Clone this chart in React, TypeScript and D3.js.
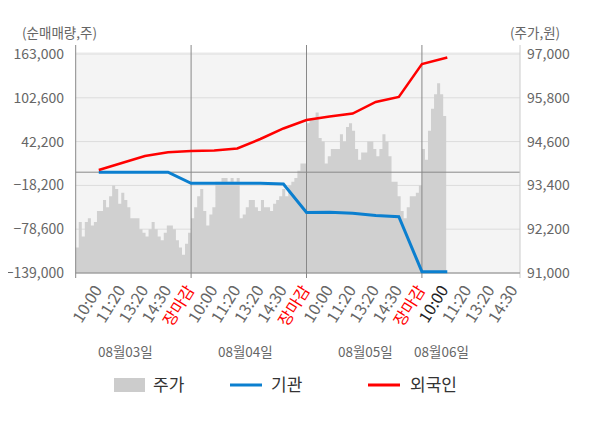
import React from 'react';
import * as d3 from 'd3';

// 주가 (right axis), sampled per day
const day1Price = [
  91700, 92400, 92000, 92400, 92500, 92300, 92400, 92700, 92700, 93000, 92800, 93100, 93400,
  93300, 92900, 93200, 93000, 92800, 92500, 92500, 92500, 92200, 92100, 92000, 92200, 92400,
  92200, 92000, 91900, 92100, 92300, 92300, 92200, 91900, 91700, 91500, 91800, 92100,
];
const day2Price = [
  92500, 92800, 93100, 93300, 92700, 92300, 92600, 92800, 93500, 93500, 93600, 93600, 93500,
  93600, 93500, 93600, 92500, 92600, 92800, 93000, 93000, 92800, 92700, 93000, 92800, 92800,
  92700, 92900, 93000, 93100, 93300, 93100, 93400, 93500, 93600, 93800, 94000, 94000,
];
const day3Price = [
  95100, 95200, 95200, 95400, 94700, 94600, 94000, 94200, 94400, 94400, 94400, 94800, 94600,
  95000, 95100, 94900, 94400, 94100, 94300, 94300, 94600, 94600, 94400, 94200, 94400, 94800,
  94600, 94200, 93500, 93500, 93100, 92700, 92500, 92800, 93100, 93100, 93200, 93400,
];
const day4Price = [94400, 94100, 94900, 95500, 95900, 96200, 95900, 95300];
const pricesByDay = [day1Price, day2Price, day3Price, day4Price];

// 외국인 / 기관 net volume at each label slot
const lineSlots = [1, 2, 3, 4, 5, 6, 7, 8, 9, 10, 11, 12, 13, 14, 15, 16.1];
const foreign = [
  3000, 12700, 22300, 27400, 29200, 29900, 32700, 45800, 60300, 72000, 76800, 80900, 96800,
  103700, 149200, 158200,
];
const institution = [
  0, 0, 0, 0, -15300, -15300, -15300, -15300, -16300, -55600, -55300, -56700, -59700, -61400,
  -137200, -137200,
];

const leftTicks = [163000, 102600, 42200, -18200, -78600, -139000];
const rightTicks = [97000, 95800, 94600, 93400, 92200, 91000];
const timeLabels = ['10:00', '11:20', '13:20', '14:30', '장마감'];
const dateLabels = ['08월03일', '08월04일', '08월05일', '08월06일'];
const datePos = [2.15, 7.35, 12.55, 15.85];

const SLOTS_PER_DAY = 5;
const FONT = '"Noto Sans CJK KR", "Noto Sans", sans-serif';

const App: React.FC = () => {
  const width = 600;
  const height = 428;
  const left = 75.7;
  const right = 520;
  const top = 54;
  const bottom = 273;

  const x = d3.scaleLinear().domain([0, 19.25]).range([left, right]);
  const yL = d3.scaleLinear().domain([-139000, 163000]).range([bottom, top]);
  const yR = d3.scaleLinear().domain([91000, 97000]).range([bottom, top]);

  const pricePts: [number, number][] = [];
  pricesByDay.forEach((arr, d) => {
    const step = SLOTS_PER_DAY / 38;
    arr.forEach((p, i) => pricePts.push([d * SLOTS_PER_DAY + i * step, p]));
    if (d === pricesByDay.length - 1) {
      pricePts.push([d * SLOTS_PER_DAY + arr.length * step, arr[arr.length - 1]]);
    }
  });

  const area = d3
    .area<[number, number]>()
    .curve(d3.curveStepAfter)
    .x((d) => x(d[0]))
    .y0(bottom)
    .y1((d) => yR(d[1]));

  const line = d3
    .line<[number, number]>()
    .x((d) => x(d[0]))
    .y((d) => yL(d[1]));

  const redPts = lineSlots.map((s, i) => [s, foreign[i]] as [number, number]);
  const bluePts = lineSlots.map((s, i) => [s, institution[i]] as [number, number]);

  const ticks: { slot: number; label: string; color: string }[] = [];
  for (let d = 0; d < 4; d++) {
    timeLabels.forEach((t, i) => {
      const slot = d * SLOTS_PER_DAY + i + 1;
      if (slot > 19.25) return;
      let color = '#666';
      if (t === '장마감') color = '#f00';
      if (d === 3 && i === 0) color = '#222';
      ticks.push({ slot, label: t, color });
    });
  }

  const daySeps = [0, 5, 10, 15];

  return (
    <svg width={width} height={height} style={{ display: 'block', margin: -8 }} fontFamily={FONT}>
      <rect x={left} y={top - 2} width={right - left} height={bottom - top + 2} fill="#f4f4f4" />
      {leftTicks.map((t) => (
        <line key={t} x1={left} x2={right} y1={yL(t)} y2={yL(t)} stroke="#dcdcdc" strokeWidth={1} />
      ))}
      <path d={area(pricePts) || ''} fill="#d0d0d0" />
      <line x1={left} x2={right} y1={yL(0)} y2={yL(0)} stroke="#888" strokeWidth={1} />
      {daySeps.map((s) => (
        <line key={s} x1={x(s)} x2={x(s)} y1={45} y2={bottom + 5} stroke="#888" strokeWidth={1} />
      ))}
      <line x1={right} x2={right} y1={45} y2={bottom + 5} stroke="#ccc" strokeWidth={1} />
      <line x1={left} x2={right} y1={bottom} y2={bottom} stroke="#888" strokeWidth={1} />
      <path d={line(bluePts) || ''} fill="none" stroke="#0b7fcf" strokeWidth={3} />
      <path d={line(redPts) || ''} fill="none" stroke="#ff0000" strokeWidth={2.5} />

      <text x={22} y={38} fontSize={13.5} fill="#666">(순매매량,주)</text>
      <text x={510} y={38} fontSize={13.5} fill="#666">(주가,원)</text>
      {leftTicks.map((t) => (
        <text key={t} x={64} y={yL(t) + 5} fontSize={14} fill="#666" textAnchor="end">
          {d3.format(',')(t)}
        </text>
      ))}
      {rightTicks.map((t) => (
        <text key={t} x={527} y={yR(t) + 5} fontSize={14} fill="#666">
          {d3.format(',')(t)}
        </text>
      ))}
      {ticks.map((t) => (
        <text
          key={t.slot}
          transform={`translate(${x(t.slot) + 4},${bottom + 17}) rotate(-58)`}
          fontSize={16}
          fill={t.color}
          textAnchor="end"
        >
          {t.label}
        </text>
      ))}
      {dateLabels.map((l, i) => (
        <text key={l} x={x(datePos[i])} y={357} fontSize={13.5} fill="#666" textAnchor="middle">
          {l}
        </text>
      ))}

      <g fontSize={17} fill="#333">
        <rect x={114} y={378} width={31} height={14} fill="#ccc" />
        <text x={153} y={391}>주가</text>
        <line x1={230} x2={262} y1={385} y2={385} stroke="#0b7fcf" strokeWidth={3} />
        <text x={271} y={391}>기관</text>
        <line x1={368} x2={400} y1={385} y2={385} stroke="#ff0000" strokeWidth={3} />
        <text x={410} y={391}>외국인</text>
      </g>
    </svg>
  );
};

export default App;
